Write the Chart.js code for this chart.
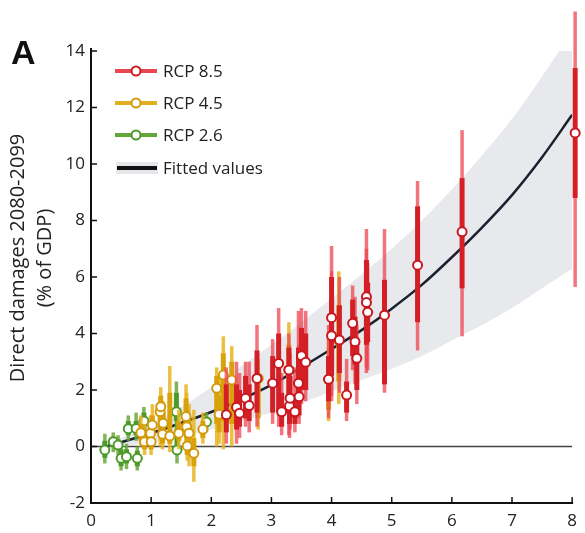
<!DOCTYPE html>
<html lang="en">
<head>
  <meta charset="UTF-8" />
  <title>Direct damages 2080-2099</title>
  <script src="https://cdn.jsdelivr.net/npm/chart.js"></script>
  <style>
    html, body { margin: 0; padding: 0; background: #fff; }
    #wrap { width: 585px; height: 533px; }
  </style>
</head>
<body>
  <div id="wrap"><canvas id="chart"></canvas></div>

  <script>
    // --- data ---
    const xTicks = [0, 1, 2, 3, 4, 5, 6, 7, 8];
    const yTicks = [-2, 0, 2, 4, 6, 8, 10, 12, 14];

    // RCP 8.5
    const redX       = [2.25, 2.42, 2.47, 2.57, 2.63, 2.76, 3.02, 3.12, 3.17, 3.29, 3.30, 3.31, 3.39, 3.45, 3.46, 3.50, 3.57, 3.95, 4.00, 4.00, 4.13, 4.25, 4.35, 4.39, 4.42, 4.58, 4.58, 4.60, 4.88, 5.43, 6.17, 8.05];
    const redY       = [1.12, 1.39, 1.18, 1.71, 1.45, 2.41, 2.24, 2.94, 1.23, 2.71, 1.43, 1.71, 1.23, 2.24, 1.76, 3.21, 2.98, 2.38, 4.56, 3.92, 3.77, 1.82, 4.36, 3.71, 3.12, 5.30, 5.10, 4.75, 4.65, 6.42, 7.60, 11.10];
    const redThinLo  = [0.1, 0.1, 0.3, 0.7, 0.5, 0.7, 0.8, 0.7, 0.4, 0.4, 0.3, 0.6, 0.5, 1.0, 0.8, 1.5, 1.6, 1.0, 1.8, 1.6, 1.9, 0.9, 2.7, 2.2, 1.5, 2.6, 2.8, 2.7, 1.9, 3.4, 3.9, 5.65];
    const redThinHi  = [2.8, 3.0, 2.6, 3.0, 3.0, 4.3, 3.8, 4.9, 2.6, 4.0, 3.2, 3.3, 2.8, 4.8, 3.6, 4.9, 4.8, 4.3, 7.1, 6.2, 6.0, 3.1, 5.7, 5.3, 4.3, 7.7, 7.0, 6.5, 7.7, 9.4, 11.2, 15.4];
    const redThickLo = [0.5, 0.6, 0.7, 1.0, 0.9, 1.2, 1.2, 1.2, 0.7, 1.3, 0.8, 1.0, 0.8, 1.4, 1.1, 2.0, 2.0, 1.6, 2.8, 2.5, 2.6, 1.2, 3.2, 2.9, 2.0, 3.6, 3.8, 3.7, 2.2, 4.4, 5.6, 8.8];
    const redThickHi = [2.2, 2.2, 2.0, 2.5, 2.2, 3.4, 3.2, 4.0, 1.9, 3.5, 2.3, 2.5, 1.8, 3.5, 2.6, 4.2, 4.0, 3.2, 6.0, 5.2, 5.0, 2.3, 5.2, 4.6, 3.8, 6.6, 6.2, 5.8, 5.9, 8.5, 9.5, 13.4];

    // RCP 4.5
    const yelX       = [0.83, 0.89, 0.99, 1.00, 1.02, 1.15, 1.16, 1.19, 1.20, 1.31, 1.46, 1.58, 1.59, 1.60, 1.63, 1.71, 1.86, 2.09, 2.13, 2.20, 2.34, 2.78, 3.29, 3.95, 4.12];
    const yelY       = [0.49, 0.17, 0.47, 0.17, 0.76, 1.23, 1.41, 0.43, 0.82, 0.37, 0.47, 1.06, 0.70, 0.02, 0.47, -0.24, 0.61, 2.06, 1.14, 2.53, 2.35, 2.41, 2.71, 2.38, 3.77];
    const yelThinLo  = [0.0, -0.3, -0.1, -0.3, 0.2, 0.0, 0.7, -0.1, 0.2, -0.2, -0.1, 0.1, 0.0, -0.5, -0.7, -1.25, 0.1, 0.0, 0.1, -0.1, 0.0, 0.6, 0.8, 0.9, 1.5];
    const yelThinHi  = [1.1, 0.8, 1.1, 0.7, 1.5, 1.7, 2.1, 1.2, 1.6, 2.85, 1.3, 2.2, 1.9, 0.9, 1.5, 1.3, 1.2, 2.8, 2.4, 3.9, 3.55, 3.1, 4.4, 3.8, 6.2];
    const yelThickLo = [0.2, -0.1, 0.1, -0.1, 0.4, 0.5, 1.0, 0.1, 0.5, 0.1, 0.2, 0.5, 0.3, -0.3, -0.2, -0.7, 0.3, 0.8, 0.5, 0.9, 0.8, 1.0, 1.4, 1.3, 2.3];
    const yelThickHi = [0.8, 0.5, 0.8, 0.5, 1.1, 1.5, 1.8, 0.8, 1.2, 1.9, 0.9, 1.7, 1.3, 0.5, 1.0, 0.3, 0.9, 2.5, 1.8, 3.3, 3.0, 2.6, 3.6, 3.2, 5.0];

    // RCP 2.6
    const grnX       = [0.23, 0.37, 0.45, 0.50, 0.59, 0.62, 0.75, 0.77, 0.88, 1.42, 1.43, 1.92];
    const grnY       = [-0.12, 0.17, 0.05, -0.42, -0.36, 0.63, 0.64, -0.42, 0.90, 1.23, -0.12, 0.87];
    const grnThinLo  = [-0.6, -0.2, -0.3, -0.85, -0.8, 0.2, 0.2, -0.85, 0.3, 0.6, -0.6, 0.5];
    const grnThinHi  = [0.45, 0.5, 0.4, 0.0, 0.1, 1.1, 1.2, 0.0, 1.4, 2.3, 1.3, 1.2];
    const grnThickLo = [-0.4, 0.0, -0.1, -0.7, -0.6, 0.4, 0.4, -0.7, 0.5, 0.9, -0.3, 0.7];
    const grnThickHi = [0.2, 0.35, 0.25, -0.1, -0.1, 0.9, 0.9, -0.15, 1.2, 1.9, 0.6, 1.05];

    // fitted values and confidence band
    const fitX     = [0.25, 0.5, 1, 1.5, 2, 2.5, 3, 3.5, 4, 4.5, 5, 5.5, 6, 6.5, 7, 7.5, 8];
    const fitY     = [0.0, 0.15, 0.47, 0.83, 1.22, 1.67, 2.18, 2.80, 3.45, 4.12, 4.88, 5.72, 6.70, 7.75, 8.90, 10.24, 11.74];
    const bandUp   = [0.05, 0.3, 0.8, 1.4, 2.1, 2.85, 3.6, 4.4, 5.25, 6.1, 7.0, 8.0, 9.1, 10.3, 11.6, 13.1, 14.7];
    const bandLow  = [-0.05, 0.0, 0.15, 0.35, 0.6, 0.9, 1.2, 1.55, 1.95, 2.35, 2.75, 3.2, 3.75, 4.3, 4.9, 5.6, 6.3];

    const FONT = "'Open Sans', sans-serif";
    const pts = (xs, ys) => xs.map((x, i) => ({ x: x, y: ys[i] }));

    function serie(label, xs, ys, tLo, tHi, kLo, kHi, thin, thick, ring, order) {
      return {
        type: 'scatter', label: label, data: pts(xs, ys), order: order, clip: false,
        pointRadius: 4.5, pointHoverRadius: 4.5, pointBorderWidth: 2,
        pointBackgroundColor: '#fff', pointBorderColor: ring,
        err: { tLo: tLo, tHi: tHi, kLo: kLo, kHi: kHi, thin: thin, thick: thick }
      };
    }

    function vline(ctx, x, y1, y2, color, w) {
      ctx.strokeStyle = color;
      ctx.lineWidth = w;
      ctx.beginPath();
      ctx.moveTo(x, y1);
      ctx.lineTo(x, y2);
      ctx.stroke();
    }

    function hline(ctx, x1, x2, y, color, w) {
      ctx.strokeStyle = color;
      ctx.lineWidth = w;
      ctx.beginPath();
      ctx.moveTo(x1, y);
      ctx.lineTo(x2, y);
      ctx.stroke();
    }

    const decoraciones = {
      id: 'decoraciones',
      beforeDatasetsDraw(chart) {
        const { ctx, chartArea, scales } = chart;
        ctx.save();
        hline(ctx, chartArea.left, chartArea.right, scales.y.getPixelForValue(0), '#444', 1.3);
        ctx.restore();
      },
      // barras de error justo antes de los circulos de cada serie
      beforeDatasetDraw(chart, args) {
        const ds = chart.data.datasets[args.index];
        if (!ds.err) return;
        const { ctx, scales } = chart;
        const e = ds.err;
        ctx.save();
        ds.data.forEach((p, i) => {
          const px = scales.x.getPixelForValue(p.x);
          vline(ctx, px, scales.y.getPixelForValue(e.tLo[i]), scales.y.getPixelForValue(e.tHi[i]), e.thin, 3.5);
        });
        ds.data.forEach((p, i) => {
          const px = scales.x.getPixelForValue(p.x);
          vline(ctx, px, scales.y.getPixelForValue(e.kLo[i]), scales.y.getPixelForValue(e.kHi[i]), e.thick, 5);
        });
        ctx.restore();
      },
      afterDraw(chart) {
        const { ctx, chartArea, scales } = chart;
        const { left, right, top, bottom } = chartArea;
        ctx.save();

        // ejes
        ctx.strokeStyle = '#111';
        ctx.lineWidth = 2;
        ctx.beginPath();
        ctx.moveTo(left, top - 3);
        ctx.lineTo(left, bottom);
        ctx.lineTo(right + 1, bottom);
        ctx.stroke();

        // marcas hacia dentro
        ctx.lineWidth = 1.5;
        yTicks.forEach(v => {
          const py = scales.y.getPixelForValue(v);
          ctx.beginPath(); ctx.moveTo(left, py); ctx.lineTo(left + 6, py); ctx.stroke();
        });
        xTicks.forEach(v => {
          const px = scales.x.getPixelForValue(v);
          ctx.beginPath(); ctx.moveTo(px, bottom); ctx.lineTo(px, bottom - 6); ctx.stroke();
        });

        // leyenda
        const items = [
          { label: 'RCP 8.5', line: '#ea4650', ring: '#cc1b24' },
          { label: 'RCP 4.5', line: '#e0b020', ring: '#d29c0c' },
          { label: 'RCP 2.6', line: '#62a83a', ring: '#4c9a2a' },
          { label: 'Fitted values' }
        ];
        const rows = [71, 103, 135, 168];
        ctx.font = '17px ' + FONT;
        ctx.textBaseline = 'middle';
        ctx.textAlign = 'left';
        items.forEach((it, i) => {
          const y = rows[i];
          if (it.ring) {
            hline(ctx, 115, 157, y, it.line, 4);
            ctx.beginPath();
            ctx.arc(136, y, 4.5, 0, Math.PI * 2);
            ctx.fillStyle = '#fff';
            ctx.fill();
            ctx.strokeStyle = it.ring;
            ctx.lineWidth = 2;
            ctx.stroke();
          } else {
            ctx.fillStyle = '#e6e7ea';
            ctx.fillRect(116, y - 6, 42, 12);
            hline(ctx, 117, 157, y, '#111', 4);
          }
          ctx.fillStyle = '#222';
          ctx.fillText(it.label, 163, y + 1);
        });

        // titulo del eje y
        ctx.save();
        ctx.translate(0, 258);
        ctx.rotate(-Math.PI / 2);
        ctx.textAlign = 'center';
        ctx.textBaseline = 'middle';
        ctx.font = '20px ' + FONT;
        ctx.fillStyle = '#222';
        ctx.fillText('Direct damages 2080-2099', 0, 18);
        ctx.fillText('(% of GDP)', 0, 45);
        ctx.restore();

        // letra del panel
        ctx.font = 'bold 34px "Liberation Sans", Arial, sans-serif';
        ctx.fillStyle = '#111';
        ctx.textAlign = 'left';
        ctx.textBaseline = 'alphabetic';
        ctx.fillText('A', 11, 64);

        ctx.restore();
      }
    };

    const ctx = document.getElementById('chart').getContext('2d');
    new Chart(ctx, {
      type: 'scatter',
      data: {
        datasets: [
          { type: 'line', label: 'band upper', data: pts(fitX, bandUp), order: 6, clip: false,
            borderWidth: 0, pointRadius: 0, fill: '+1', backgroundColor: '#e8e9ec', tension: 0.4 },
          { type: 'line', label: 'band lower', data: pts(fitX, bandLow), order: 7, clip: false,
            borderWidth: 0, pointRadius: 0, fill: false, tension: 0.4 },
          { type: 'line', label: 'Fitted values', data: pts(fitX, fitY), order: 5,
            borderColor: '#1b2130', borderWidth: 2.5, pointRadius: 0, fill: false,
            cubicInterpolationMode: 'monotone' },
          serie('RCP 2.6', grnX, grnY, grnThinLo, grnThinHi, grnThickLo, grnThickHi,
                'rgba(104,168,58,0.85)', '#4e9a2a', '#4c9a2a', 3),
          serie('RCP 4.5', yelX, yelY, yelThinLo, yelThinHi, yelThickLo, yelThickHi,
                'rgba(232,180,32,0.85)', '#d9a20a', '#d39b0b', 2),
          serie('RCP 8.5', redX, redY, redThinLo, redThinHi, redThickLo, redThickHi,
                'rgba(238,70,82,0.75)', '#d41f26', '#c8171f', 1)
        ]
      },
      options: {
        responsive: true,
        maintainAspectRatio: false,
        animation: false,
        layout: { padding: { top: 51, right: 7, left: 0, bottom: 0 } },
        plugins: {
          legend: { display: false },
          tooltip: { enabled: false }
        },
        scales: {
          x: {
            type: 'linear', min: 0, max: 8,
            afterBuildTicks: s => { s.ticks = xTicks.map(v => ({ value: v })); },
            ticks: { font: { family: FONT, size: 17 }, color: '#222', padding: 8, maxRotation: 0 },
            grid: { display: false, drawTicks: false },
            border: { display: false },
            afterFit: s => { s.height = 30; }
          },
          y: {
            min: -2, max: 14,
            afterBuildTicks: s => { s.ticks = yTicks.map(v => ({ value: v })); },
            ticks: { font: { family: FONT, size: 17 }, color: '#222', padding: 6 },
            grid: { display: false, drawTicks: false },
            border: { display: false },
            afterFit: s => { s.width = 91; }
          }
        }
      },
      plugins: [decoraciones]
    });
  </script>
</body>
</html>
